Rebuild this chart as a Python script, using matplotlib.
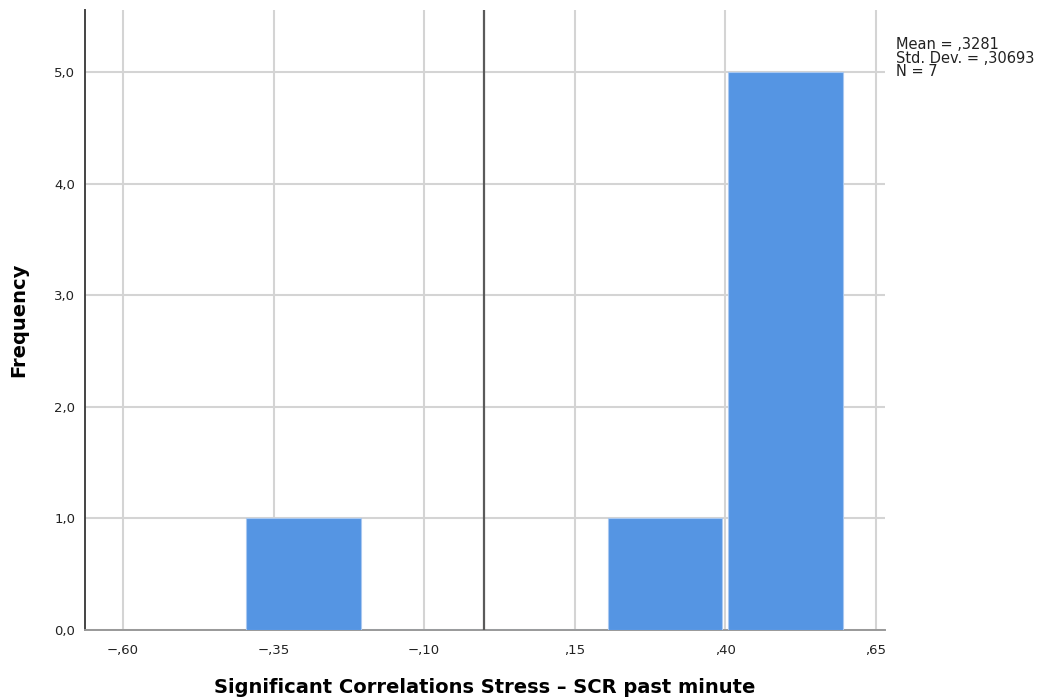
import matplotlib.pyplot as plt

# histogram of significant correlations (bin centres and counts)
bin_centers = [-0.30, -0.10, 0.10, 0.30, 0.50]
frequencies = [1, 0, 0, 1, 5]
bin_width = 0.19

x_ticks = [-0.60, -0.35, -0.10, 0.15, 0.40, 0.65]
x_tick_labels = ['\u2212,60', '\u2212,35', '\u2212,10', ',15', ',40', ',65']
y_ticks = [0, 1, 2, 3, 4, 5]
y_tick_labels = ['0,0', '1,0', '2,0', '3,0', '4,0', '5,0']

stats_text = 'Mean = ,3281\nStd. Dev. = ,30693\nN = 7'

fig = plt.figure(figsize=(10.39, 6.99), dpi=100)
ax = fig.add_axes([0.0818, 0.0987, 0.77, 0.887])

ax.bar(bin_centers, frequencies, width=bin_width, color='#5595e3',
       edgecolor='#a9c8f0', linewidth=0.8, zorder=3)

ax.axvline(0, color='#5a5a5a', lw=1.6, zorder=4)

ax.set_xlim(-0.663, 0.665)
ax.set_ylim(0, 5.556)
ax.set_xticks(x_ticks)
ax.set_xticklabels(x_tick_labels)
ax.set_yticks(y_ticks)
ax.set_yticklabels(y_tick_labels)
ax.tick_params(axis='x', length=0, labelsize=9.5, colors='#222222', pad=10)
ax.tick_params(axis='y', length=0, labelsize=9.5, colors='#222222', pad=7)

ax.grid(True, color='#d4d4d4', lw=1.5, zorder=0)
for side in ['top', 'right']:
    ax.spines[side].set_visible(False)
ax.spines['left'].set_color('#444444')
ax.spines['left'].set_linewidth(1.4)
ax.spines['bottom'].set_color('#999999')
ax.spines['bottom'].set_linewidth(1.4)

ax.set_xlabel('Significant Correlations Stress \u2013 SCR past minute',
              fontsize=14, fontweight='bold', labelpad=15)
ax.set_ylabel('Frequency', fontsize=14, fontweight='bold', labelpad=19)

fig.text(896 / 1039, 1 - 37 / 699, stats_text, fontsize=10.5, va='top',
         ha='left', linespacing=0.88, color='#222222')

fig.savefig('out.png', dpi=100)
